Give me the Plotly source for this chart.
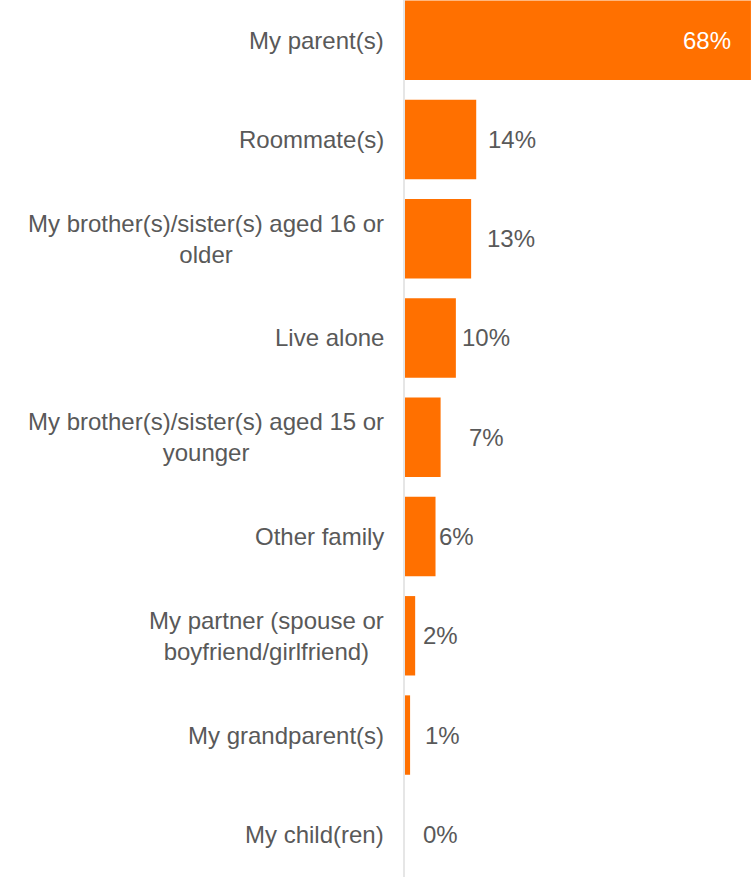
import plotly.graph_objects as go

# Who respondents live with (share of respondents, %)
categories = [
    "My parent(s)",
    "Roommate(s)",
    "My brother(s)/sister(s) aged 16 or<br>older",
    "Live alone",
    "My brother(s)/sister(s) aged 15 or<br>younger",
    "Other family",
    "My partner (spouse or<br>boyfriend/girlfriend)",
    "My grandparent(s)",
    "My child(ren)",
]
values = [68, 14, 13, 10, 7, 6, 2, 1, 0]
value_labels = ["68%", "14%", "13%", "10%", "7%", "6%", "2%", "1%", "0%"]

# Horizontal pixel gap between each bar end and its value label
label_gaps = [18, 10, 14, 4, 26, 1, 6, 13, 16]

BAR = "#FF7000"
TEXT = "#595959"
FONT = "Liberation Sans, Arial, sans-serif"

fig = go.Figure(
    go.Bar(
        x=values,
        y=categories,
        orientation="h",
        marker=dict(color=BAR, line=dict(width=0)),
        hoverinfo="skip",
    )
)

annotations = []
for cat, val, lab, gap in zip(categories, values, value_labels, label_gaps):
    # category label, right of which sits the axis line
    annotations.append(dict(
        x=0, y=cat, xref="x", yref="y", text=cat, showarrow=False,
        xanchor="right", yanchor="middle", align="center", xshift=-19,
        font=dict(family=FONT, size=24, color=TEXT),
    ))
    inside = val >= 50
    annotations.append(dict(
        x=val, y=cat, xref="x", yref="y", text=lab, showarrow=False,
        xanchor="right" if inside else "left", yanchor="middle",
        xshift=-gap if inside else gap,
        font=dict(family=FONT, size=24, color="white" if inside else TEXT),
    ))

fig.update_layout(
    width=755,
    height=877,
    margin=dict(l=405, r=0, t=0, b=0),
    paper_bgcolor="white",
    plot_bgcolor="white",
    bargap=0.2,
    showlegend=False,
    annotations=annotations,
    xaxis=dict(range=[0, 68.8], visible=False, fixedrange=True),
    yaxis=dict(
        range=[8.43, -0.405],
        showticklabels=False,
        showgrid=False,
        zeroline=False,
        showline=True,
        linecolor="#E6E6E6",
        linewidth=2,
        ticks="",
        fixedrange=True,
    ),
)

fig.write_html("out.html")
